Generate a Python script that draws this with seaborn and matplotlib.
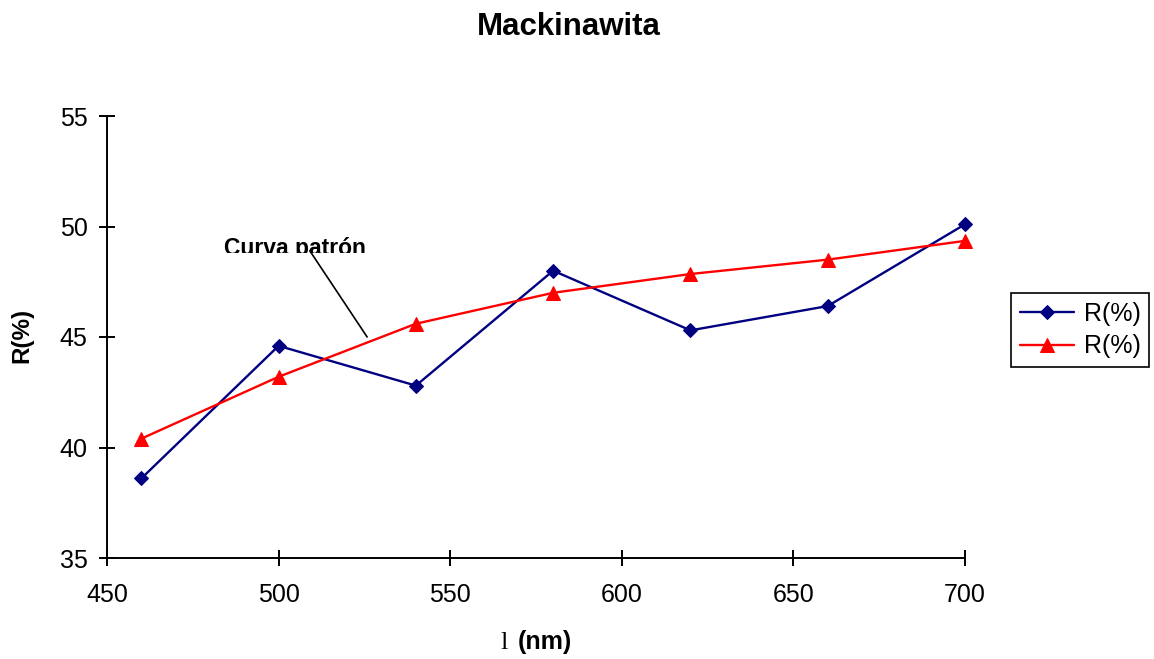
import matplotlib
matplotlib.use("Agg")
import matplotlib.pyplot as plt
from matplotlib.transforms import Bbox
import seaborn as sns
import pandas as pd

# ---- data ----
wavelength = [460, 500, 540, 580, 620, 660, 700]
r_sample = [38.6, 44.6, 42.8, 48.0, 45.3, 46.4, 50.1]
r_standard = [40.4, 43.2, 45.6, 47.0, 47.85, 48.5, 49.35]
x_ticks = [450, 500, 550, 600, 650, 700]
y_ticks = [35, 40, 45, 50, 55]
title = "Mackinawita"
series_label = "R(%)"
annot_text = "Curva patrón"

sns.set_style("white")
plt.rcParams['font.family'] = ['Liberation Sans', 'DejaVu Sans']
plt.rcParams['text.color'] = 'black'
plt.rcParams['axes.labelcolor'] = 'black'
plt.rcParams['xtick.color'] = 'black'
plt.rcParams['ytick.color'] = 'black'

W, H = 1154, 659
fig = plt.figure(figsize=(W / 100, H / 100), dpi=100)
ax = fig.add_axes([107 / W, 1 - 558 / H, (965 - 107) / W, (558 - 116) / H])

df = pd.DataFrame({"wl": wavelength, "s": r_sample, "p": r_standard})
sns.lineplot(data=df, x="wl", y="s", ax=ax, color="#000080", marker="D",
             markersize=7, markeredgecolor="#000080", linewidth=1.7,
             label=series_label)
sns.lineplot(data=df, x="wl", y="p", ax=ax, color="#FF0000", marker="^",
             markersize=10, markeredgecolor="#FF0000", linewidth=1.7,
             label=series_label)

ax.set_xlim(450, 700)
ax.set_ylim(35, 55)
ax.set_xticks(x_ticks)
ax.set_yticks(y_ticks)
ax.set_xlabel("")
ax.set_ylabel("")
for s in ["top", "right"]:
    ax.spines[s].set_visible(False)
for s in ["left", "bottom"]:
    ax.spines[s].set_color("black")
    ax.spines[s].set_linewidth(1.4)
ax.tick_params(axis="both", which="major", bottom=True, left=True,
               direction="inout", length=12, width=1.4,
               colors="black", labelcolor="black", labelsize=18)
ax.tick_params(axis="x", pad=12)
ax.tick_params(axis="y", pad=8)
for ln in ax.lines:
    ln.set_clip_on(False)

# annotation
ax.annotate("", xy=(525.8, 45.0), xytext=(509.1, 48.9),
            arrowprops=dict(arrowstyle="-", color="black", lw=1.2,
                            shrinkA=0, shrinkB=0))
t = ax.text(484.1, 48.71, annot_text, fontsize=16.5, fontweight="bold",
            ha="left", va="baseline", color="black")
t.set_clip_on(True)
t.set_clip_box(Bbox.from_extents(0, H - 253, W, H))

# title and axis labels
fig.text(569 / W, 1 - 27 / H, title, fontsize=22.5, fontweight="bold",
         ha="center", va="center", color="black")
fig.text(22 / W, 1 - 335 / H, "R(%)", fontsize=17.5, fontweight="bold",
         rotation=90, ha="center", va="center", color="black")
fig.text(504 / W, 10 / H, "l", fontsize=19, family="Liberation Serif",
         ha="center", va="baseline", color="black")
fig.text(544.5 / W, 10 / H, "(nm)", fontsize=18, fontweight="bold",
         ha="center", va="baseline", color="black")

leg = ax.legend(loc="center left", bbox_to_anchor=(1011 / W, 1 - 330 / H),
                bbox_transform=fig.transFigure, fontsize=18, frameon=True,
                fancybox=False, shadow=False, edgecolor="black",
                handlelength=2.15, handletextpad=0.4, borderpad=0.35,
                borderaxespad=0, labelspacing=0.35, numpoints=1)
leg._legend_box.sep = 4
leg.get_frame().set_linewidth(1.2)
leg.get_frame().set_alpha(1)
for txt in leg.get_texts():
    txt.set_color("black")

fig.savefig("out.png", dpi=100)
